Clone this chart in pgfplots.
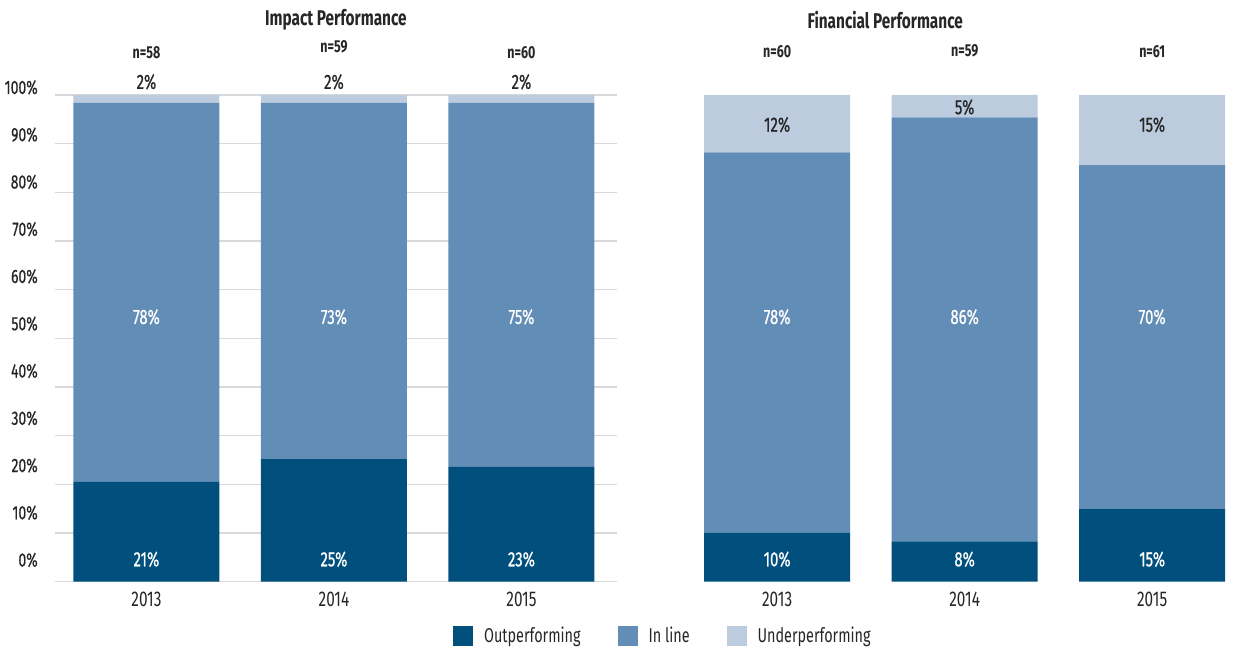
\documentclass[border=0pt]{standalone}
\usepackage{pgfplots}
\usepackage{pgfplotstable}
\pgfplotsset{compat=1.18}
\usepackage{fontspec}
\setmainfont{Fira Sans}[FakeStretch=0.72]
\newfontfamily\med{Fira Sans}[FakeStretch=0.72, FakeBold=0.6]
\definecolor{outc}{HTML}{004F7C}
\definecolor{inc}{HTML}{628DB6}
\definecolor{underc}{HTML}{BCCBDE}
\definecolor{gridc}{HTML}{D9D9D9}
\definecolor{txt}{HTML}{262626}

\pgfplotstableread{
x out in under
0 20.5 77.9 1.6
1 25.2 73.2 1.6
2 23.6 74.8 1.6
}\impact
\pgfplotstableread{
x out in under
0 10.0 78.2 11.8
1 8.3 87.1 4.6
2 14.9 70.7 14.4
}\financial
\pgfplotstableread{
x outy outv iny inv undy undv ny nv
0 4.6 21 54.4 78 102.7 2 108.7 58
1 4.6 25 54.4 73 102.7 2 109.9 59
2 4.6 23 54.4 75 102.7 2 108.7 60
}\impactlab
\pgfplotstableread{
x outy outv iny inv undy undv ny nv
0 4.6 10 54.4 78 93.9 12 109.0 60
1 4.6 8 54.4 86 97.5 5 109.0 59
2 4.6 15 54.4 70 93.9 15 109.0 61
}\financiallab

\pgfplotsset{
  leftgeom/.style={at={(41.25pt,50.5pt)}, anchor=south west, scale only axis,
    width=421.3pt, height=370.84pt, xmin=-0.488, xmax=2.508, ymin=0, ymax=101.6},
  rightgeom/.style={at={(497.5pt,50.5pt)}, anchor=south west, scale only axis,
    width=437.8pt, height=370.84pt, xmin=-0.607, xmax=2.506, ymin=0, ymax=101.6},
  panel/.style={
    ybar stacked, bar width=109.5pt,
    axis line style={draw=none}, tick style={draw=none},
    major tick length=0pt, minor tick length=0pt,
    xtick={0,1,2}, xticklabels={2013,2014,2015},
    xticklabel style={font=\fontsize{16}{18}\selectfont, text=txt, anchor=north, inner sep=0pt, yshift=-7.5pt},
    minor ytick={0,10,...,100}, yminorgrids=true, ymajorgrids=false, xmajorgrids=false,
    minor grid style={draw=gridc, line width=1.1pt},
    clip=false,
    title style={font=\bfseries\fontsize{16}{18}\selectfont, text=txt, anchor=center, yshift=44.4pt},
  },
  labaxis/.style={hide axis, clip=false},
  lab/.style={draw=none, mark=none, nodes near coords={\pgfplotspointmeta\%},
    point meta=explicit symbolic, nodes near coords align=center,
    every node near coord/.append style={anchor=center, inner sep=0pt,
      font=\med\fontsize{15.5}{17}\selectfont, text=#1}},
  nlab/.style={draw=none, mark=none, nodes near coords={n=\pgfplotspointmeta},
    point meta=explicit symbolic, nodes near coords align=center,
    every node near coord/.append style={anchor=center, inner sep=0pt,
      font=\bfseries\fontsize{13}{15}\selectfont, text=txt}},
  sq/.style={fill=#1, draw=none,
    legend image code/.code={\fill[##1] (0pt,-7.5pt) rectangle (15pt,7.5pt);}},
}

\begin{document}
\begin{tikzpicture}
\useasboundingbox (0pt,0pt) rectangle (935.25pt,486.75pt);
% ---------- Impact Performance ----------
\begin{axis}[leftgeom, panel,
  title={Impact Performance}, title style={at={(0.5,1)}},
  ytick={4.46,14.17,23.88,33.59,43.30,53.01,62.72,72.43,82.14,91.85,101.56},
  yticklabels={0\%,10\%,20\%,30\%,40\%,50\%,60\%,70\%,80\%,90\%,100\%},
  yticklabel style={font=\med\fontsize{14.5}{16}\selectfont, text=txt, anchor=east, inner sep=0pt, xshift=-12.75pt},
]
\addplot[fill=outc, draw=none] table[x=x, y=out] {\impact};
\addplot[fill=inc, draw=none] table[x=x, y=in] {\impact};
\addplot[fill=underc, draw=none] table[x=x, y=under] {\impact};
\end{axis}
\begin{axis}[leftgeom, labaxis]
\addplot[lab=white] table[x=x, y=outy, meta=outv] {\impactlab};
\addplot[lab=white] table[x=x, y=iny, meta=inv] {\impactlab};
\addplot[lab=txt] table[x=x, y=undy, meta=undv] {\impactlab};
\addplot[nlab] table[x=x, y=ny, meta=nv] {\impactlab};
\end{axis}
% ---------- Financial Performance ----------
\begin{axis}[rightgeom, panel,
  title={Financial Performance}, title style={at={(0.38,1)}},
  ytick=\empty,
  legend style={at={(0,-0.109)}, anchor=center, draw=none, fill=none,
    font=\fontsize{15}{17}\selectfont, text=txt, legend columns=3,
    /tikz/every even column/.append style={column sep=26pt},
    /tikz/every odd column/.append style={column sep=6pt}},
  legend cell align=left,
]
\addplot[sq=outc] table[x=x, y=out] {\financial};
\addlegendentry{Outperforming}
\addplot[sq=inc] table[x=x, y=in] {\financial};
\addlegendentry{In line}
\addplot[sq=underc] table[x=x, y=under] {\financial};
\addlegendentry{Underperforming}
\end{axis}
\begin{axis}[rightgeom, labaxis]
\addplot[lab=white] table[x=x, y=outy, meta=outv] {\financiallab};
\addplot[lab=white] table[x=x, y=iny, meta=inv] {\financiallab};
\addplot[lab=txt] table[x=x, y=undy, meta=undv] {\financiallab};
\addplot[nlab] table[x=x, y=ny, meta=nv] {\financiallab};
\end{axis}
\end{tikzpicture}
\end{document}
